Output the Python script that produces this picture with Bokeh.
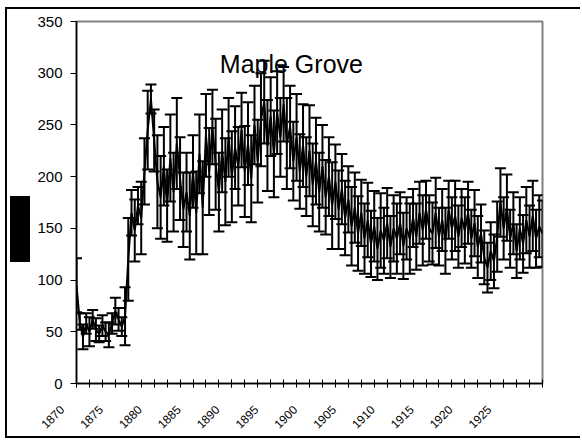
import math
from bokeh.plotting import figure
from bokeh.models import (ColumnDataSource, Range1d, FixedTicker, Whisker, TeeHead, Label)
from bokeh.embed import file_html
from bokeh.resources import INLINE

title_text = "Maple Grove"
side_title = "Ring Width"

# series values (one per category)
values = [
    95, 60, 45, 58, 50, 62, 52, 48, 56, 50,
    47, 58, 70, 62, 55, 65, 120, 165, 148, 172,
    160, 205, 245, 275, 235, 195, 180, 210, 172, 218,
    185, 232, 198, 168, 185, 162, 205, 165, 222, 170,
    240, 205, 248, 212, 185, 225, 195, 238, 200, 228,
    210, 245, 205, 232, 198, 250, 215, 255, 272, 230,
    258, 222, 262, 238, 270, 232, 248, 215, 238, 205,
    230, 200, 225, 192, 215, 185, 210, 180, 200, 172,
    195, 168, 188, 160, 178, 152, 170, 145, 165, 140,
    158, 135, 152, 130, 148, 138, 155, 132, 150, 140,
    155, 133, 150, 140, 160, 142, 165, 148, 168, 150,
    145, 165, 142, 158, 138, 168, 150, 162, 142, 160,
    148, 165, 140, 155, 132, 145, 122, 112, 128, 118,
    142, 175, 150, 170, 140, 155, 128, 150, 135, 158,
    142, 162, 140, 152, 145,
]

# error (+/-) per category
errors = [
    26, 8, 12, 10, 14, 9, 11, 8, 10, 9,
    12, 10, 13, 11, 9, 28, 40, 22, 30, 18,
    35, 32, 38, 14, 30, 45, 40, 38, 35, 42,
    38, 44, 40, 36, 38, 42, 35, 40, 38, 45,
    40, 42, 36, 44, 38, 40, 42, 38, 44, 40,
    38, 36, 44, 40, 42, 38, 40, 45, 40, 44,
    38, 42, 40, 38, 36, 44, 40, 38, 42, 36,
    40, 38, 44, 40, 42, 38, 40, 36, 38, 42,
    36, 38, 34, 36, 32, 38, 34, 36, 32, 34,
    36, 32, 34, 30, 36, 32, 34, 30, 32, 34,
    30, 32, 30, 34, 28, 32, 30, 34, 28, 32,
    30, 34, 28, 30, 32, 28, 30, 34, 30, 28,
    32, 30, 28, 32, 30, 28, 26, 24, 28, 26,
    34, 33, 30, 32, 28, 30, 26, 30, 28, 32,
    30, 34, 28, 30, 32,
]

tick_labels = ["1870", "1875", "1880", "1885", "1890", "1895",
               "1900", "1905", "1910", "1915", "1920", "1925"]
label_every = 12
tick_every = 4
y_ticks = [0, 50, 100, 150, 200, 250, 300, 350]

n = len(values)
xs = list(range(n))
src = ColumnDataSource(dict(
    x=xs, y=values,
    lo=[v - e for v, e in zip(values, errors)],
    hi=[v + e for v, e in zip(values, errors)],
))

p = figure(width=575, height=431, output_backend="svg", toolbar_location=None,
           x_range=Range1d(0, n - 1), y_range=Range1d(0, 350),
           min_border_left=69, min_border_right=40, min_border_top=12,
           min_border_bottom=57)
p.background_fill_color = "white"
p.border_fill_color = None
p.outline_line_color = "#808080"
p.outline_line_width = 2
p.xgrid.visible = False
p.ygrid.visible = False
# outer chart frame, plus the solid block behind the (illegible) value-axis title
p.styles = {"margin-left": "5px", "margin-top": "7px",
            "border-top": "2px solid black", "border-left": "2px solid black",
            "border-bottom": "2px solid black",
            "background": "linear-gradient(black, black) 3px 187px / 20px 66px no-repeat, white"}

p.line("x", "y", source=src, line_color="black", line_width=2)
w = Whisker(source=src, base="x", lower="lo", upper="hi", dimension="height",
            line_color="black", line_width=2,
            upper_head=TeeHead(size=11, line_color="black", line_width=2),
            lower_head=TeeHead(size=11, line_color="black", line_width=2))
p.add_layout(w)

# y axis
ya = p.yaxis[0]
ya.ticker = FixedTicker(ticks=y_ticks)
ya.axis_line_color = "black"
ya.axis_line_width = 1.5
ya.major_tick_line_color = "black"
ya.major_tick_out = 6
ya.major_tick_in = 0
ya.minor_tick_line_color = None
ya.major_label_text_font = "Liberation Sans"
ya.major_label_text_font_size = "15px"
ya.major_label_text_color = "black"
ya.major_label_standoff = 8
ya.axis_label = side_title + "\u00a0" * 16
ya.axis_label_text_font = "Liberation Sans"
ya.axis_label_text_font_size = "12px"
ya.axis_label_text_font_style = "bold"
ya.axis_label_text_color = "black"
ya.axis_label_standoff = 6

# x axis
xa = p.xaxis[0]
label_pos = [i * label_every for i in range(len(tick_labels))]
pad = "\u00a0" * 6
xa.ticker = FixedTicker(ticks=label_pos,
                        minor_ticks=list(range(0, n, tick_every)))
xa.major_label_overrides = {pos: t + pad for pos, t in zip(label_pos, tick_labels)}
xa.major_label_orientation = math.pi / 4
xa.axis_line_color = "black"
xa.axis_line_width = 1.5
xa.major_tick_line_color = "black"
xa.minor_tick_line_color = "black"
xa.major_tick_in = 4
xa.major_tick_out = 4
xa.minor_tick_in = 4
xa.minor_tick_out = 4
xa.major_label_text_font = "Liberation Sans"
xa.major_label_text_font_size = "12px"
xa.major_label_text_color = "black"
xa.major_label_standoff = 6

# chart title inside plot area
p.add_layout(Label(x=66.4, y=309, text=title_text, text_align="center",
                   text_baseline="alphabetic", text_font="Liberation Sans",
                   text_font_size="25px", text_color="black"))

open("out.html", "w").write(file_html(p, INLINE))
